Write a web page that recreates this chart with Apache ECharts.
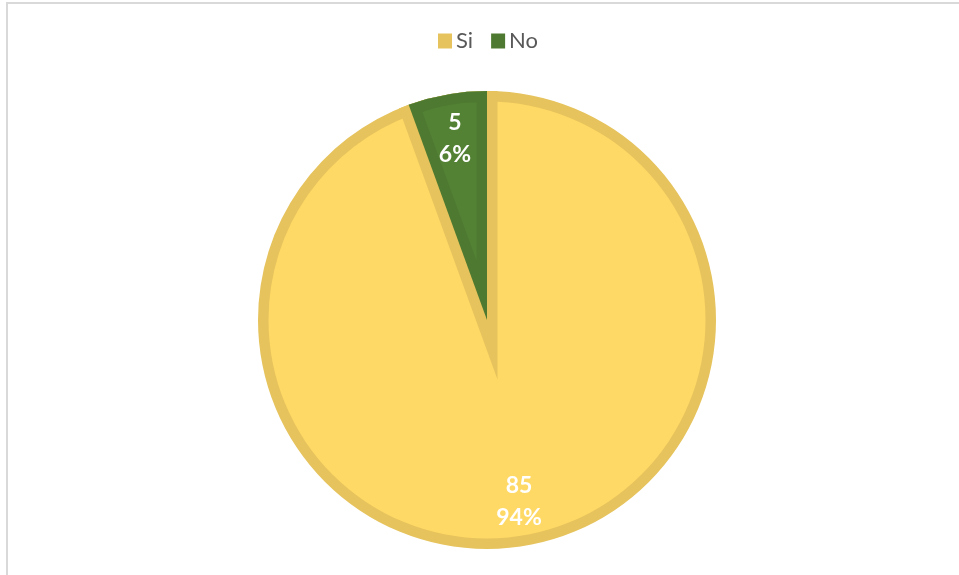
<!DOCTYPE html>
<html>
<head>
<meta charset="utf-8">
<title>Si / No</title>
<script src="https://cdn.jsdelivr.net/npm/echarts@6/dist/echarts.min.js"></script>
<style>
  html, body { margin: 0; padding: 0; background: #ffffff; }
  #chart { width: 959px; height: 575px; }
</style>
</head>
<body>
<div id="chart"></div>
<script>
// Answers and their counts
const categories = ['Si', 'No'];
const counts = [85, 5];

// Slice fills and their inner edge bands
const fillColors = ['#FFD966', '#548235'];
const edgeColors = ['#E6C35C', '#4D7A30'];

// Pie layout (px)
const CX = 487, CY = 320, R = 229, EDGE = 10.5;
const LABEL_R = 181.5;

const CLEAR = 'rgba(0,0,0,0)';
const total = counts.reduce((a, b) => a + b, 0);

// Geometry of the small slice's inset fill: its straight edges move in by EDGE,
// so its apex slides out along the bisector.
const before = counts.slice(0, 1).reduce((a, b) => a + b, 0);
const midAngle = (before + counts[1] / 2) / total * 2 * Math.PI;  // clockwise from top
const halfAngle = counts[1] / total * Math.PI;
const apexShift = EDGE / Math.sin(halfAngle);
const insetCenter = [CX + apexShift * Math.sin(midAngle), CY - apexShift * Math.cos(midAngle)];
const insetRadius = R - EDGE - apexShift;

function items(styleFor) {
  return categories.map((name, i) => ({
    name: name,
    value: counts[i],
    itemStyle: Object.assign({ borderWidth: 0 }, styleFor(i))
  }));
}

const basePie = {
  type: 'pie',
  center: [CX, CY],
  startAngle: 90,
  clockwise: true,
  silent: true,
  label: { show: false },
  labelLine: { show: false },
  emphasis: { disabled: true }
};

const option = {
  animation: false,
  backgroundColor: '#ffffff',
  legend: {
    data: categories,
    left: 438,
    top: 30,
    padding: 0,
    icon: 'rect',
    itemWidth: 14,
    itemHeight: 15,
    itemGap: 18,
    selectedMode: false,
    textStyle: { fontFamily: 'Lato', fontSize: 22, color: '#595959', padding: [0, 0, 0, -1] }
  },
  graphic: [{
    type: 'rect',
    silent: true,
    shape: { x: 7, y: 3, width: 1000, height: 1000 },
    style: { fill: 'none', stroke: '#D9D9D9', lineWidth: 2 }
  }],
  series: [
    // outer edge ring of every slice
    Object.assign({}, basePie, {
      name: 'edge', radius: R,
      data: items(i => ({ color: edgeColors[i] }))
    }),
    // body of the large slice
    Object.assign({}, basePie, {
      name: 'body', radius: R - EDGE,
      data: items(() => ({ color: fillColors[0] }))
    }),
    // edge band of the large slice along its straight sides
    Object.assign({}, basePie, {
      name: 'band', radius: R - EDGE,
      data: items(i => i === 1
        ? { color: edgeColors[0], borderColor: edgeColors[0], borderWidth: EDGE * 2,
            borderJoin: 'miter', borderMiterLimit: 30 }
        : { color: CLEAR })
    }),
    // small slice with its edge colour
    Object.assign({}, basePie, {
      name: 'small', radius: R,
      data: items(i => ({ color: i === 1 ? edgeColors[1] : CLEAR }))
    }),
    // inset fill of the small slice
    Object.assign({}, basePie, {
      name: 'smallFill', center: insetCenter, radius: insetRadius,
      data: items(i => ({ color: i === 1 ? fillColors[1] : CLEAR }))
    }),
    // value and percentage labels
    Object.assign({}, basePie, {
      name: 'labels', radius: [2 * LABEL_R - R, R],
      data: items(() => ({ color: CLEAR })),
      label: {
        show: true,
        position: 'inside',
        formatter: p => p.value + '\n' + Math.round(p.percent) + '%',
        color: '#ffffff',
        fontFamily: 'Lato',
        fontWeight: 'bold',
        fontSize: 23,
        lineHeight: 32
      }
    })
  ]
};

const chart = echarts.init(document.getElementById('chart'), null, { renderer: 'canvas' });
chart.setOption(option);
</script>
</body>
</html>
